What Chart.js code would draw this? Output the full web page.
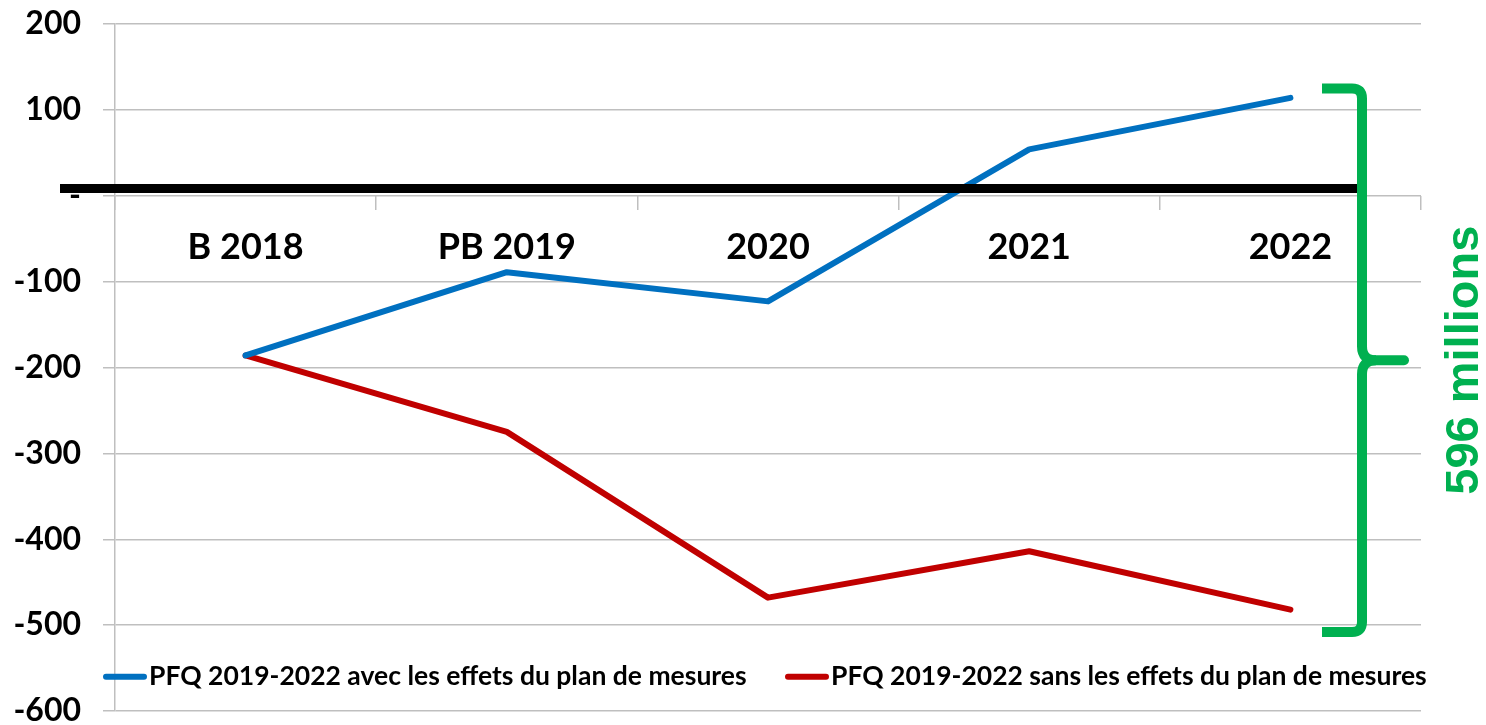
<!DOCTYPE html>
<html>
<head>
<meta charset="utf-8">
<script src="https://cdn.jsdelivr.net/npm/chart.js@4.4.0/dist/chart.umd.min.js"></script>
<style>
    html, body { margin: 0; padding: 0; background: #fff; }
    #wrap { width: 1486px; height: 725px; position: relative; }
</style>
</head>
<body>
<div id="wrap"><canvas id="chart"></canvas></div>
<script>
const categories = ['B 2018', 'PB 2019', '2020', '2021', '2022'];
const avecMesures = [-186, -89, -123, 54, 114];
const sansMesures = [-186, -275, -468, -414, -482];
const seriesLabels = [
    'PFQ 2019-2022 avec les effets du plan de mesures',
    'PFQ 2019-2022 sans les effets du plan de mesures'
];
const yTicks = [200, 100, 0, -100, -200, -300, -400, -500, -600];

const BLUE = '#0070C0';
const RED = '#C00000';
const GREEN = '#00B050';
const GRID = '#bfbfbf';

// thick black reference line, drawn slightly above zero like the original
const refLineValue = 8.5;
// brace covers this range of values
const braceTop = 125;
const braceBottom = -508;

const overlays = {
    id: 'overlays',
    afterDatasetsDraw(chart) {
        const ctx = chart.ctx;
        const y = chart.scales.y;
        const area = chart.chartArea;

        // black line
        ctx.save();
        ctx.strokeStyle = '#000';
        ctx.lineWidth = 9;
        ctx.beginPath();
        const ly = y.getPixelForValue(refLineValue);
        ctx.moveTo(area.left - 55, ly);
        ctx.lineTo(area.right - 59, ly);
        ctx.stroke();
        ctx.restore();

        // brace
        const bx = area.right - 59;
        const t = y.getPixelForValue(braceTop);
        const b = y.getPixelForValue(braceBottom);
        const m = (t + b) / 2;
        ctx.save();
        ctx.strokeStyle = GREEN;
        ctx.lineWidth = 10;
        ctx.lineJoin = 'round';
        ctx.beginPath();
        ctx.moveTo(bx - 40, t);
        ctx.lineTo(bx - 10, t);
        ctx.quadraticCurveTo(bx, t, bx, t + 10);
        ctx.lineTo(bx, m - 14);
        ctx.quadraticCurveTo(bx, m, bx + 14, m);
        ctx.moveTo(bx + 14, m);
        ctx.quadraticCurveTo(bx, m, bx, m + 14);
        ctx.lineTo(bx, b - 10);
        ctx.quadraticCurveTo(bx, b, bx - 10, b);
        ctx.lineTo(bx - 40, b);
        ctx.stroke();
        ctx.lineCap = 'round';
        ctx.beginPath();
        ctx.moveTo(bx + 8, m);
        ctx.lineTo(bx + 42, m);
        ctx.stroke();
        ctx.restore();

        // brace label
        const diff = Math.round(avecMesures[avecMesures.length - 1] - sansMesures[sansMesures.length - 1]);
        ctx.save();
        ctx.translate(area.right + 44, m);
        ctx.rotate(-Math.PI / 2);
        ctx.fillStyle = GREEN;
        ctx.font = 'bold 47px "Liberation Sans", Arial, sans-serif';
        ctx.textAlign = 'center';
        ctx.textBaseline = 'middle';
        ctx.fillText(diff + ' millions', 0, 0);
        ctx.restore();

        // legend inside the plot
        ctx.save();
        ctx.font = 'bold 26.5px Lato, sans-serif';
        ctx.textBaseline = 'middle';
        const legY = y.getPixelForValue(-560);
        const starts = [area.left - 12, area.left + 670];
        chart.data.datasets.forEach((ds, i) => {
            const sx = starts[i];
            ctx.strokeStyle = ds.borderColor;
            ctx.lineWidth = 6;
            ctx.lineCap = 'round';
            ctx.beginPath();
            ctx.moveTo(sx + 3, legY);
            ctx.lineTo(sx + 41, legY);
            ctx.stroke();
            ctx.fillStyle = '#000';
            ctx.fillText(ds.label, sx + 46, legY);
        });
        ctx.restore();
    }
};

const ctx = document.getElementById('chart').getContext('2d');
new Chart(ctx, {
    type: 'line',
    data: {
        labels: categories,
        datasets: [{
            label: seriesLabels[0],
            data: avecMesures,
            borderColor: BLUE,
            backgroundColor: BLUE,
            borderWidth: 6,
            borderCapStyle: 'round',
            borderJoinStyle: 'round',
            pointRadius: 0,
            tension: 0
        }, {
            label: seriesLabels[1],
            data: sansMesures,
            borderColor: RED,
            backgroundColor: RED,
            borderWidth: 6,
            borderCapStyle: 'round',
            borderJoinStyle: 'round',
            pointRadius: 0,
            tension: 0
        }]
    },
    options: {
        responsive: true,
        maintainAspectRatio: false,
        animation: false,
        layout: { padding: { top: 24, right: 65, bottom: 14, left: 0 } },
        plugins: {
            legend: { display: false },
            tooltip: { enabled: false }
        },
        scales: {
            x: {
                type: 'category',
                position: { y: 0 },
                offset: true,
                grid: {
                    offset: true,
                    drawOnChartArea: false,
                    tickLength: 14,
                    color: GRID,
                    lineWidth: 1.5
                },
                border: { display: false },
                ticks: {
                    color: '#000',
                    padding: 16,
                    maxRotation: 0,
                    font: { family: 'Lato', weight: 'bold', size: 36 }
                }
            },
            y: {
                min: -600,
                max: 200,
                afterBuildTicks: (scale) => {
                    scale.ticks = yTicks.map(v => ({ value: v }));
                },
                afterFit: (scale) => {
                    scale.width = 115;
                    scale.paddingTop = 0;
                    scale.paddingBottom = 0;
                },
                grid: {
                    color: GRID,
                    lineWidth: 1.5,
                    tickLength: 12
                },
                border: { color: GRID, width: 1.5 },
                ticks: {
                    color: '#000',
                    padding: 22,
                    font: { family: 'Lato', weight: 'bold', size: 32 },
                    callback: (v) => v === 0 ? '-' : v
                }
            }
        }
    },
    plugins: [overlays]
});
</script>
</body>
</html>
